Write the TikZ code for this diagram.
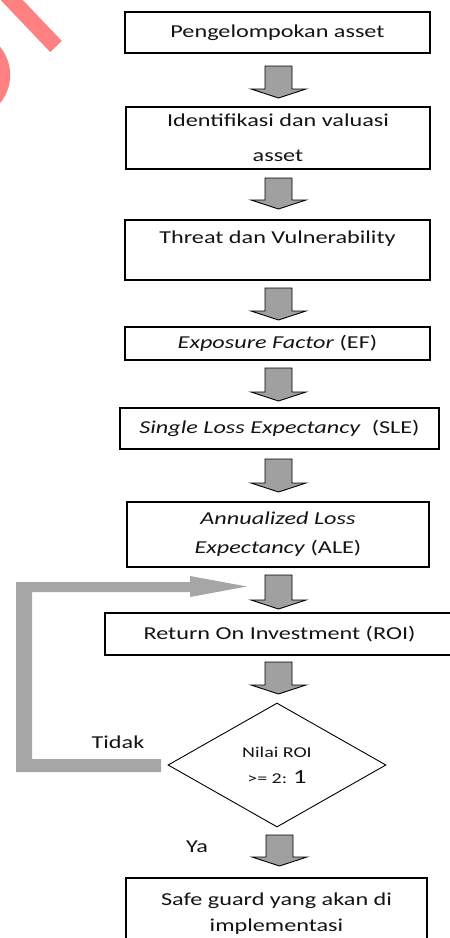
\documentclass[tikz,border=0pt]{standalone}
\usepackage{fontspec}
\setmainfont{Carlito}[FakeStretch=1.33]
\usetikzlibrary{shapes.geometric}
\definecolor{agray}{RGB}{160,160,160}
\definecolor{fbgray}{RGB}{166,166,166}
\definecolor{wmpink}{RGB}{255,128,128}
\definecolor{txt}{RGB}{20,20,20}
\tikzset{
  boxnode/.style 2 args={draw=black, line width=1.3pt, fill=white,
    minimum width=#1, minimum height=#2, inner sep=0pt, align=center,
    text=txt, font=\fontsize{18.2}{35}\selectfont},
  lbl/.style={inner sep=0pt, text=txt, font=\fontsize{18.2}{35}\selectfont},
  pics/blockarrow/.style={code={
    \draw[line width=0.9pt, fill=agray, line join=miter]
      (-13.5,0) -- (13.5,0) -- (13.5,#1) -- (27.5,#1) -- (0,{#1+9})
      -- (-27.5,#1) -- (-13.5,#1) -- cycle;
  }}
}
\begin{document}
\begin{tikzpicture}[x=1pt,y=-1pt]
\useasboundingbox (0,0) rectangle (450,938);
% watermark fragment
\begin{scope}
  \clip (0,0) rectangle (450,938);
  \draw[wmpink, line width=16pt] (-4,-16.5) -- (56,46.5);
  \fill[wmpink] (-34,75) circle (44.2pt);
\end{scope}

% boxes
\node[boxnode={305pt}{41pt}] (b1) at (277.5,32.5) {Pengelompokan asset};
\node[boxnode={304pt}{62pt}] (b2) at (278,138) {Identifikasi dan valuasi\\asset};
\node[boxnode={305pt}{60pt}] (b3) at (277.5,250) {Threat dan Vulnerability\\[-9pt]\mbox{}};
\node[boxnode={305pt}{33pt}] (b4) at (277.5,343.5) {\textit{Exposure Factor} (EF)};
\node[boxnode={319pt}{41pt}] (b5) at (279.5,428.5) {\textit{Single Loss Expectancy}\ \ (SLE)};
\node[boxnode={302pt}{65pt}] (b6) at (278,534.5) {\textit{Annualized Loss}\\[-6pt]\textit{Expectancy} (ALE)};
\node[boxnode={349pt}{42pt}] (b7) at (279.5,634) {Return On Investment (ROI)};
\node[diamond, draw=black, line width=0.9pt, fill=white, minimum width=218pt,
      minimum height=124pt, inner sep=0pt, align=center, text=txt,
      font=\fontsize{15}{26}\selectfont] (dec) at (277,765)
      {Nilai ROI\\>= 2: {\fontsize{20}{26}\selectfont 1}};
\node[boxnode={301pt}{72pt}] (b8) at (276.5,914) {Safe guard yang akan di\\[-9pt]implementasi};

% block arrows
\pic at (278.5,66) {blockarrow=23};
\pic at (278.5,178) {blockarrow=22};
\pic at (278.5,288) {blockarrow=23};
\pic at (278.5,368) {blockarrow=24};
\pic at (278.5,459) {blockarrow=24};
\pic at (278.5,575) {blockarrow=25};
\pic at (278.5,662) {blockarrow=23};
\pic at (279.5,835) {blockarrow=22};

% feedback arrow (Tidak)
\coordinate (fbstart) at (161,765.5);
\coordinate (fbend) at (247,586.5);
\fill[fbgray] (161,759) -- (32,759) -- (32,592) -- (190,592) -- (190,597)
  -- (fbend) -- (190,576) -- (190,582) -- (16,582) -- (16,772) -- (161,772) -- cycle;

% labels
\node[lbl] (tidak) at (118,742) {Tidak};
\node[lbl] (ya) at (197,847) {Ya};
\end{tikzpicture}
\end{document}
